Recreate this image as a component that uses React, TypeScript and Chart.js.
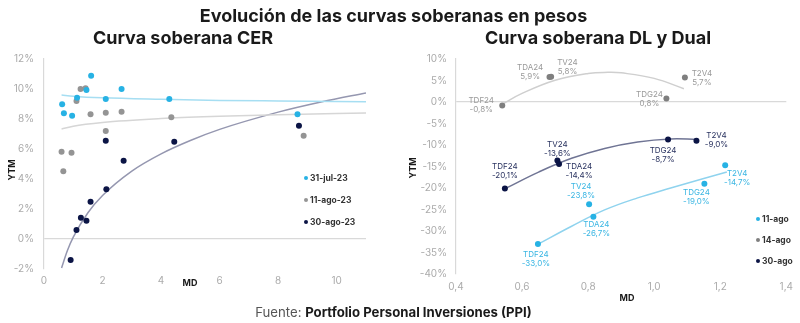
import React, { useEffect, useRef } from 'react';
import { Chart, registerables } from 'chart.js';

Chart.register(...registerables);

// ---------------- Left chart: Curva soberana CER ----------------
const cerSeriesNames = ['31-jul-23', '11-ago-23', '30-ago-23'];

const cerJul31MD = [0.62, 0.68, 0.96, 1.13, 1.45, 1.61, 2.11, 2.65, 4.28, 8.66];
const cerJul31YTM = [8.98, 8.38, 8.22, 9.42, 9.93, 10.89, 9.33, 10.0, 9.33, 8.31];

const cerAgo11MD = [0.6, 0.66, 0.94, 1.11, 1.25, 1.42, 1.59, 2.11, 2.11, 2.65, 4.35, 8.87];
const cerAgo11YTM = [5.82, 4.51, 5.75, 9.2, 10.0, 10.05, 8.31, 8.42, 7.2, 8.49, 8.11, 6.89];

const cerAgo30MD = [0.91, 1.11, 1.26, 1.45, 1.59, 2.13, 2.11, 2.72, 4.45, 8.71];
const cerAgo30YTM = [-1.4, 0.6, 1.42, 1.22, 2.49, 3.31, 6.55, 5.22, 6.49, 7.55];

// trend lines
const cerTrendMD = [0.6, 1, 2, 4, 6, 8, 11];
const cerJul31Trend = [9.6, 9.52, 9.41, 9.31, 9.24, 9.2, 9.15];
const cerAgo11Trend = [7.33, 7.52, 7.77, 8.03, 8.18, 8.29, 8.4];
const cerAgo30TrendMD = [0.6, 0.8, 1, 1.5, 2, 3, 4, 5, 6, 8, 9.5, 11];
const cerAgo30Trend = [-1.93, -0.77, 0.12, 1.75, 2.9, 4.53, 5.68, 6.57, 7.31, 8.46, 9.15, 9.74];

const cerXTicks = [0, 2, 4, 6, 8, 10];
const cerYTicks = [-2, 0, 2, 4, 6, 8, 10, 12];

// ---------------- Right chart: Curva soberana DL y Dual ----------------
const dlBonds = ['TDF24', 'TV24', 'TDA24', 'TDG24', 'T2V4'];
const dlSeriesNames = ['11-ago', '14-ago', '30-ago'];

const dlAgo11MD = [0.648, 0.803, 0.816, 1.152, 1.215];
const dlAgo11YTM = [-33.0, -23.8, -26.7, -19.0, -14.7];
const dlAgo14MD = [0.54, 0.683, 0.688, 1.037, 1.093];
const dlAgo14YTM = [-0.8, 5.8, 5.9, 0.8, 5.7];
const dlAgo30MD = [0.548, 0.707, 0.712, 1.042, 1.128];
const dlAgo30YTM = [-20.1, -13.6, -14.4, -8.7, -9.0];

const dlAgo11TrendMD = [0.65, 0.75, 0.85, 0.95, 1.05, 1.15, 1.22];
const dlAgo11Trend = [-33, -28.9, -25.1, -22.3, -20.0, -17.8, -16.3];
const dlAgo14TrendMD = [0.54, 0.6, 0.7, 0.8, 0.86, 0.9, 1.0, 1.09];
const dlAgo14Trend = [-0.5, 2.0, 5.06, 6.64, 6.9, 6.78, 5.49, 3.1];
const dlAgo30TrendMD = [0.55, 0.65, 0.75, 0.85, 0.95, 1.05, 1.13];
const dlAgo30Trend = [-20.1, -16.3, -13.1, -10.8, -9.3, -8.6, -8.7];

const dlXTicks = [0.4, 0.6, 0.8, 1.0, 1.2, 1.4];
const dlYTicks = [-40, -35, -30, -25, -20, -15, -10, -5, 0, 5, 10];

// label placement (style only): offset of first label line from point
const dlAgo11LabelPos = [[-2, 11], [-8, -18], [3, 8], [-8, 9], [12, 8]];
const dlAgo14LabelPos = [[-21, -5], [18, -14], [-21, -9], [-17, -4], [17, -4]];
const dlAgo30LabelPos = [[0, -22], [0, -16], [20, 3], [-5, 11], [20, -5]];

// colours
const C_LBLUE = '#27b2e4';
const C_GRAY = '#949494';
const C_NAVY = '#0b1445';
const FONT = 'Inter, "Noto Sans", "DejaVu Sans", sans-serif';

Chart.defaults.font.family = FONT;

const zip = (xs: number[], ys: number[]) => xs.map((x, i) => ({ x, y: ys[i] }));
const fmtPct = (v: number) => v.toFixed(1).replace('.', ',') + '%';

function pointDs(label: string, xs: number[], ys: number[], color: string) {
  return {
    label,
    data: zip(xs, ys),
    backgroundColor: color,
    borderColor: color,
    pointRadius: 3,
    pointBorderWidth: 0,
    showLine: false,
    order: 0,
  };
}
function trendDs(xs: number[], ys: number[], color: string, mono = true) {
  return {
    label: '_trend',
    data: zip(xs, ys),
    borderColor: color,
    backgroundColor: color,
    borderWidth: 1.5,
    pointRadius: 0,
    showLine: true,
    tension: 0.4,
    cubicInterpolationMode: mono ? 'monotone' : 'default',
    fill: false,
    order: 5,
  };
}

type Extra = {
  mdPos: [number, number];
  ytmPos: [number, number];
  legend: { x: number; ys: number[]; names: string[]; colors: string[] };
};

function extrasPlugin(ex: Extra) {
  return {
    id: 'extras',
    afterDraw(chart: any) {
      const ctx = chart.ctx;
      ctx.save();
      ctx.fillStyle = '#1a1a1a';
      ctx.font = `bold 9px ${FONT}`;
      ctx.textAlign = 'center';
      ctx.textBaseline = 'middle';
      ctx.fillText('MD', ex.mdPos[0], ex.mdPos[1]);
      ctx.save();
      ctx.translate(ex.ytmPos[0], ex.ytmPos[1]);
      ctx.rotate(-Math.PI / 2);
      ctx.fillText('YTM', 0, 0);
      ctx.restore();
      ex.legend.names.forEach((n, i) => {
        const y = ex.legend.ys[i];
        ctx.beginPath();
        ctx.fillStyle = ex.legend.colors[i];
        ctx.arc(ex.legend.x, y, 2, 0, Math.PI * 2);
        ctx.fill();
        ctx.fillStyle = '#333';
        ctx.font = `bold 8.5px ${FONT}`;
        ctx.textAlign = 'left';
        ctx.fillText(n, ex.legend.x + 4, y);
      });
      ctx.restore();
    },
  };
}

const labelPlugin = {
  id: 'dlLabels',
  afterDatasetsDraw(chart: any) {
    const ctx = chart.ctx;
    const sets = [
      { idx: 0, ys: dlAgo11YTM, pos: dlAgo11LabelPos, color: '#3ab6e3' },
      { idx: 1, ys: dlAgo14YTM, pos: dlAgo14LabelPos, color: '#9a9a9a' },
      { idx: 2, ys: dlAgo30YTM, pos: dlAgo30LabelPos, color: '#2a3360' },
    ];
    ctx.save();
    ctx.font = `8px ${FONT}`;
    ctx.textAlign = 'center';
    ctx.textBaseline = 'middle';
    sets.forEach((s) => {
      const meta = chart.getDatasetMeta(s.idx);
      meta.data.forEach((el: any, i: number) => {
        const [dx, dy] = s.pos[i];
        ctx.fillStyle = s.color;
        ctx.fillText(dlBonds[i], el.x + dx, el.y + dy);
        ctx.fillText(fmtPct(s.ys[i]), el.x + dx, el.y + dy + 9);
      });
    });
    ctx.restore();
  },
};

const zeroGrid = (c: any) => (c.tick && c.tick.value === 0 ? '#d9d9d9' : 'rgba(0,0,0,0)');

export default function App() {
  const leftRef = useRef<HTMLCanvasElement>(null);
  const rightRef = useRef<HTMLCanvasElement>(null);

  useEffect(() => {
    document.body.style.margin = '0';
    const left = new Chart(leftRef.current as HTMLCanvasElement, {
      type: 'scatter',
      data: {
        datasets: [
          pointDs(cerSeriesNames[0], cerJul31MD, cerJul31YTM, C_LBLUE),
          pointDs(cerSeriesNames[1], cerAgo11MD, cerAgo11YTM, C_GRAY),
          pointDs(cerSeriesNames[2], cerAgo30MD, cerAgo30YTM, C_NAVY),
          trendDs(cerTrendMD, cerJul31Trend, '#a6def2'),
          trendDs(cerTrendMD, cerAgo11Trend, '#d6d6d6'),
          trendDs(cerAgo30TrendMD, cerAgo30Trend, '#9597b0'),
        ] as any,
      },
      options: {
        animation: false,
        responsive: false,
        events: [],
        layout: { padding: { left: 0, top: 59, right: 434, bottom: 0 } },
        plugins: { legend: { display: false }, tooltip: { enabled: false } },
        scales: {
          x: {
            type: 'linear',
            min: 0,
            max: 11,
            afterBuildTicks: (s: any) => {
              s.ticks = cerXTicks.map((v) => ({ value: v }));
            },
            afterFit: (s: any) => {
              s.height = 54;
            },
            ticks: { color: '#ababab', font: { size: 10 }, padding: 6, maxRotation: 0 },
            grid: { display: false, drawTicks: false },
            border: { display: false },
          },
          y: {
            type: 'linear',
            min: -2,
            max: 12,
            afterBuildTicks: (s: any) => {
              s.ticks = cerYTicks.map((v) => ({ value: v }));
            },
            afterFit: (s: any) => {
              s.width = 44;
            },
            ticks: { color: '#ababab', font: { size: 10 }, padding: 10, callback: (v: any) => v + '%' },
            grid: { color: zeroGrid, drawTicks: false, lineWidth: 1.2 },
            border: { display: true, color: '#d9d9d9', width: 1.2 },
          },
        },
      } as any,
      plugins: [
        extrasPlugin({
          mdPos: [190, 283],
          ytmPos: [12, 170],
          legend: { x: 306, ys: [178, 200, 222], names: cerSeriesNames, colors: [C_LBLUE, C_GRAY, C_NAVY] },
        }),
      ],
    });

    const right = new Chart(rightRef.current as HTMLCanvasElement, {
      type: 'scatter',
      data: {
        datasets: [
          pointDs(dlSeriesNames[0], dlAgo11MD, dlAgo11YTM, C_LBLUE),
          pointDs(dlSeriesNames[1], dlAgo14MD, dlAgo14YTM, '#7f7f7f'),
          pointDs(dlSeriesNames[2], dlAgo30MD, dlAgo30YTM, C_NAVY),
          trendDs(dlAgo11TrendMD, dlAgo11Trend, '#8fd3ee', false),
          trendDs(dlAgo14TrendMD, dlAgo14Trend, '#cfcfcf', false),
          trendDs(dlAgo30TrendMD, dlAgo30Trend, '#6f7494', false),
        ] as any,
      },
      options: {
        animation: false,
        responsive: false,
        events: [],
        layout: { padding: { left: 0, top: 59, right: 13, bottom: 0 } },
        plugins: { legend: { display: false }, tooltip: { enabled: false } },
        scales: {
          x: {
            type: 'linear',
            min: 0.4,
            max: 1.4,
            afterBuildTicks: (s: any) => {
              s.ticks = dlXTicks.map((v) => ({ value: v }));
            },
            afterFit: (s: any) => {
              s.height = 49;
            },
            ticks: {
              color: '#ababab',
              font: { size: 10 },
              padding: 7,
              maxRotation: 0,
              callback: (v: any) => Number(v).toFixed(1).replace('.', ','),
            },
            grid: { display: false, drawTicks: false },
            border: { display: false },
          },
          y: {
            type: 'linear',
            min: -40,
            max: 10,
            afterBuildTicks: (s: any) => {
              s.ticks = dlYTicks.map((v) => ({ value: v }));
            },
            afterFit: (s: any) => {
              s.width = 456;
            },
            ticks: { color: '#ababab', font: { size: 10 }, padding: 9, callback: (v: any) => v + '%' },
            grid: { color: zeroGrid, drawTicks: false, lineWidth: 1.2 },
            border: { display: true, color: '#d9d9d9', width: 1.2 },
          },
        },
      } as any,
      plugins: [
        labelPlugin,
        extrasPlugin({
          mdPos: [627, 298],
          ytmPos: [413, 168],
          legend: { x: 758, ys: [219, 240, 261], names: dlSeriesNames, colors: [C_LBLUE, '#7f7f7f', C_NAVY] },
        }),
      ],
    });

    return () => {
      left.destroy();
      right.destroy();
    };
  }, []);

  const abs: React.CSSProperties = { position: 'absolute', left: 0, top: 0 };
  const head: React.CSSProperties = { position: 'absolute', textAlign: 'center', fontWeight: 700, fontSize: 18, color: '#1a1a1a', lineHeight: '22px', whiteSpace: 'nowrap' };
  return (
    <div style={{ position: 'absolute', left: 0, top: 0, width: 800, height: 323, background: '#fff', fontFamily: FONT, overflow: 'hidden' }}>
      <canvas ref={leftRef} width={800} height={323} style={abs} />
      <canvas ref={rightRef} width={800} height={323} style={abs} />
      <div style={{ ...head, left: 0, width: 787, top: 5 }}>Evolución de las curvas soberanas en pesos</div>
      <div style={{ ...head, left: 0, width: 366, top: 27 }}>Curva soberana CER</div>
      <div style={{ ...head, left: 398, width: 400, top: 27 }}>Curva soberana DL y Dual</div>
      <div style={{ position: 'absolute', left: 0, width: 787, top: 303, textAlign: 'center', fontSize: 13.2, color: '#555', lineHeight: '18px', whiteSpace: 'nowrap' }}>
        Fuente: <span style={{ fontWeight: 700, color: '#1a1a1a' }}>Portfolio Personal Inversiones (PPI)</span>
      </div>
    </div>
  );
}
